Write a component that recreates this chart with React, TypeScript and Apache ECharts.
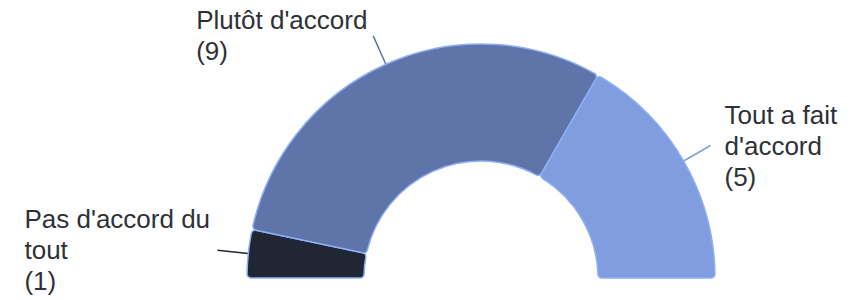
import React, { useEffect, useRef } from "react";
import * as echarts from "echarts";

const categories = ["Pas d'accord du tout", "Plutôt d'accord", "Tout a fait d'accord"];
const counts = [1, 9, 5];
const colors = ["#212634", "#5f75a9", "#7f9ddf"];
const labelWidths = [186, 171, 140];
const labelGaps = [7, 6, 14];

function wrap(text: string, max: number): string[] {
  const words = text.split(" ");
  const lines: string[] = [];
  let cur = "";
  for (const w of words) {
    const next = cur ? cur + " " + w : w;
    if (next.length > max && cur) {
      lines.push(cur);
      cur = w;
    } else {
      cur = next;
    }
  }
  if (cur) lines.push(cur);
  return lines;
}

export default function App() {
  const ref = useRef<HTMLDivElement>(null);
  useEffect(() => {
    if (!ref.current) return;
    const chart = echarts.init(ref.current, null, { renderer: "svg" });
    const data = categories.map((name, i) => ({
      name,
      value: counts[i],
      itemStyle: { color: colors[i] },
      label: {
        distanceToLabelLine: labelGaps[i],
        rich: {
          t: {
            width: labelWidths[i],
            align: "left",
            fontSize: 26,
            lineHeight: 31,
            color: "#2e3137",
            fontFamily: "Liberation Sans, Arial, sans-serif",
          },
        },
      },
    }));
    chart.setOption({
      animation: false,
      backgroundColor: "#ffffff",
      series: [
        {
          type: "pie",
          center: [481, 278],
          radius: [117, 234],
          startAngle: 180,
          endAngle: 0,
          clockwise: true,
          avoidLabelOverlap: false,
          itemStyle: {
            borderColor: "#8eb0f6",
            borderWidth: 1.5,
            borderRadius: 4,
          },
          label: {
            show: true,
            position: "outside",
            formatter: (p: any) => {
              const lines = wrap(p.name, 15).map((l) => `{t|${l}}`);
              lines.push(`{t|(${p.value})}`);
              return lines.join("\n");
            },
          },
          labelLine: {
            show: true,
            length: 31,
            length2: 0,
            smooth: false,
            lineStyle: { width: 1.5 },
          },
          emphasis: { disabled: true },
          data,
        },
      ],
    });
    return () => chart.dispose();
  }, []);
  return (
    <div
      ref={ref}
      style={{ position: "fixed", left: 0, top: 0, width: 856, height: 300 }}
    />
  );
}
